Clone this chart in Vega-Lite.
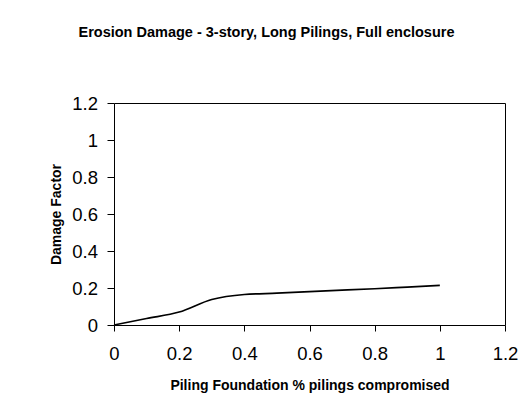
{
  "$schema": "https://vega.github.io/schema/vega-lite/v6.json",
  "autosize": "none",
  "width": 391,
  "height": 222,
  "padding": {"left": 114, "top": 103, "right": 20, "bottom": 86},
  "background": "white",
  "title": {
    "text": "Erosion Damage - 3-story, Long  Pilings, Full enclosure",
    "font": "Liberation Sans",
    "fontSize": 14.5,
    "fontWeight": "bold",
    "color": "black",
    "anchor": "middle",
    "frame": "group",
    "baseline": "alphabetic",
    "dx": -43,
    "offset": 43
  },
  "data": {
    "values": [
      {"x": 0.0, "y": 0.0},
      {"x": 0.1, "y": 0.035},
      {"x": 0.2, "y": 0.07},
      {"x": 0.3, "y": 0.138},
      {"x": 0.4, "y": 0.165},
      {"x": 0.5, "y": 0.172},
      {"x": 0.6, "y": 0.18},
      {"x": 0.7, "y": 0.188},
      {"x": 0.8, "y": 0.196},
      {"x": 0.9, "y": 0.205},
      {"x": 1.0, "y": 0.214}
    ]
  },
  "mark": {"type": "line", "color": "black", "strokeWidth": 1.7, "interpolate": "monotone"},
  "encoding": {
    "x": {
      "field": "x",
      "type": "quantitative",
      "scale": {"domain": [0, 1.2], "nice": false, "zero": false},
      "axis": {
        "title": "Piling Foundation % pilings compromised",
        "values": [0, 0.2, 0.4, 0.6, 0.8, 1, 1.2],
        "format": "~g",
        "grid": false,
        "domain": false,
        "tickColor": "black",
        "tickSize": 6,
        "labelFont": "Liberation Sans",
        "labelFontSize": 18.5,
        "labelColor": "black",
        "labelPadding": 13,
        "labelFlush": false,
        "titleFont": "Liberation Sans",
        "titleFontSize": 14,
        "titleFontWeight": "bold",
        "titleColor": "black",
        "titlePadding": 16
      }
    },
    "y": {
      "field": "y",
      "type": "quantitative",
      "scale": {"domain": [0, 1.2], "nice": false, "zero": false},
      "axis": {
        "title": "Damage Factor",
        "values": [0, 0.2, 0.4, 0.6, 0.8, 1, 1.2],
        "format": "~g",
        "grid": false,
        "domain": false,
        "tickColor": "black",
        "tickSize": 7,
        "labelFont": "Liberation Sans",
        "labelFontSize": 18.5,
        "labelColor": "black",
        "labelPadding": 9.5,
        "labelFlush": false,
        "titleFont": "Liberation Sans",
        "titleFontSize": 14,
        "titleFontWeight": "bold",
        "titleColor": "black",
        "titlePadding": 8
      }
    }
  },
  "config": {
    "view": {"stroke": "black", "strokeWidth": 1}
  }
}
